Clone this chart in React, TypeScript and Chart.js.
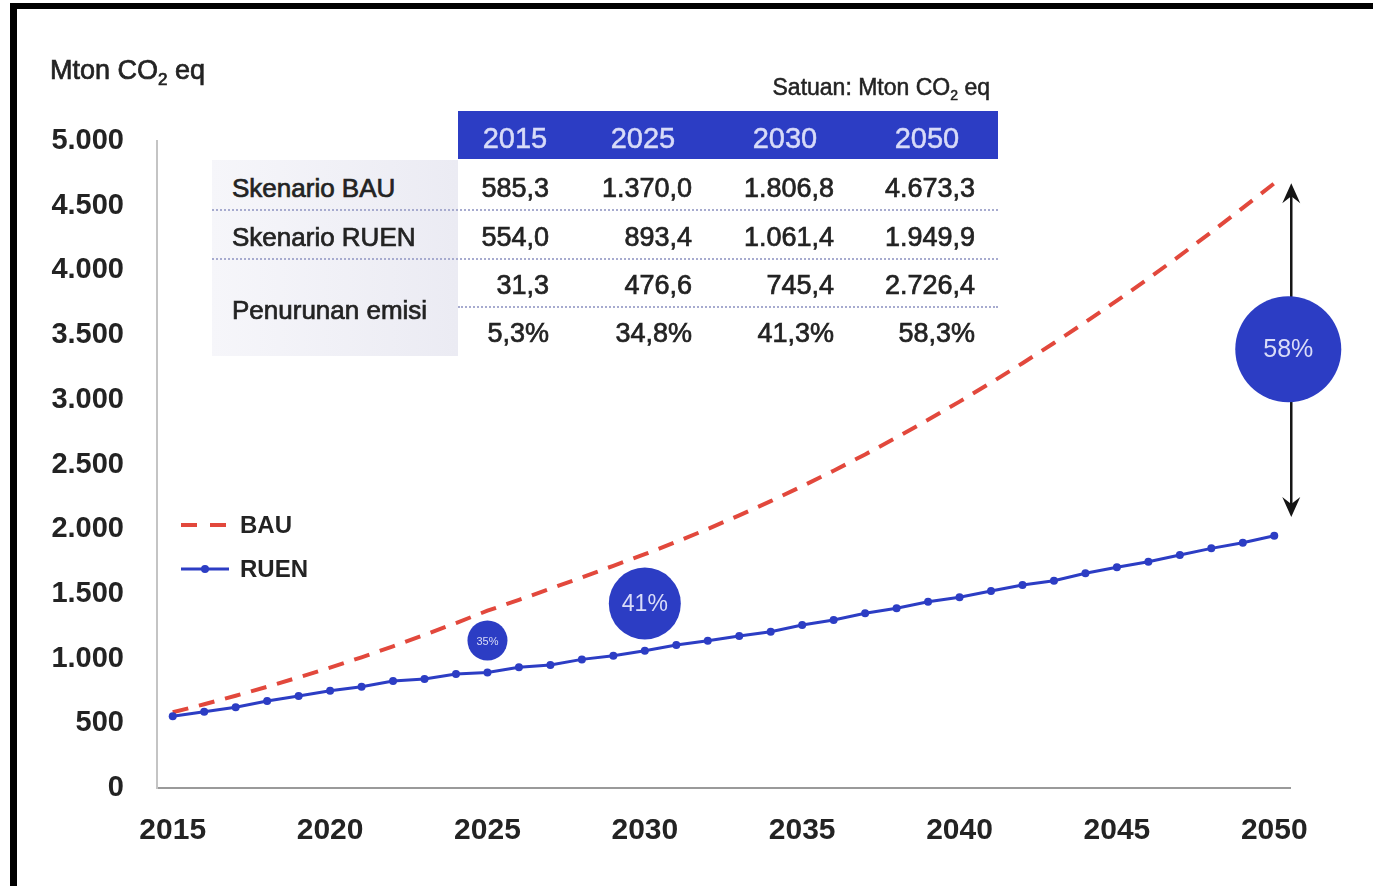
import React, { useEffect, useRef } from 'react';
import { Chart, registerables } from 'chart.js';

Chart.register(...registerables);

// ---------------- DATA ----------------
const years = [
  '2015', '2016', '2017', '2018', '2019', '2020', '2021', '2022', '2023', '2024',
  '2025', '2026', '2027', '2028', '2029', '2030', '2031', '2032', '2033', '2034',
  '2035', '2036', '2037', '2038', '2039', '2040', '2041', '2042', '2043', '2044',
  '2045', '2046', '2047', '2048', '2049', '2050',
];
const xTickLabels = ['2015', '2020', '2025', '2030', '2035', '2040', '2045', '2050'];
const yTickLabels = ['0', '500', '1.000', '1.500', '2.000', '2.500', '3.000', '3.500', '4.000', '4.500', '5.000'];

const bauValues = [
  585.3, 647, 713, 782, 855, 930, 1010, 1095, 1183, 1275,
  1370.0, 1454, 1540, 1628, 1717, 1806.8, 1902, 2002, 2107, 2217,
  2332, 2452, 2578, 2709, 2845, 2986, 3132, 3283, 3439, 3600,
  3766, 3937, 4114, 4296, 4483, 4673.3,
];
const ruenValues = [
  554.0, 590, 624, 672, 711, 752, 783, 827, 842, 881,
  893.4, 933, 950, 994, 1022, 1061.4, 1105, 1138, 1175, 1208,
  1260, 1298, 1350, 1389, 1440, 1474, 1522, 1569, 1602, 1659,
  1706, 1749, 1801, 1852, 1896, 1949.9,
];
const seriesLabels = ['BAU', 'RUEN'];

const tableYears = ['2015', '2025', '2030', '2050'];
const tableRowLabels = ['Skenario BAU', 'Skenario RUEN', 'Penurunan emisi'];
const bauRow = ['585,3', '1.370,0', '1.806,8', '4.673,3'];
const ruenRow = ['554,0', '893,4', '1.061,4', '1.949,9'];
const reductionRow = ['31,3', '476,6', '745,4', '2.726,4'];
const reductionPctRow = ['5,3%', '34,8%', '41,3%', '58,3%'];

const bubbleYears = ['2025', '2030', '2050'];
const bubbleLabels = ['35%', '41%', '58%'];
const bubbleValues = [1140, 1425, 3390];
const arrowYear = '2050';
const arrowBottomValue = 2095;

const titleText = 'Mton CO';
const unitText = 'Satuan: Mton CO';

// ---------------- STYLES ----------------
const BLUE = '#2c3dc4';
const RED = '#e2483c';
const FONT = "'Liberation Sans', Arial, sans-serif";
const TEXT = '#232323';
const bubbleStyles = [
  { r: 20, font: '11px', dx: 0 },
  { r: 36, font: '23px', dx: 0 },
  { r: 53, font: '25px', dx: 14 },
];

const annotationPlugin = {
  id: 'annotations',
  beforeDraw(chart: any) {
    const { ctx, width, height } = chart;
    ctx.save();
    ctx.fillStyle = '#ffffff';
    ctx.fillRect(0, 0, width, height);
    ctx.restore();
  },
  afterDatasetsDraw(chart: any) {
    const ctx = chart.ctx as CanvasRenderingContext2D;
    const xs = chart.scales.x;
    const ys = chart.scales.y;
    ctx.save();

    // double arrow
    const ia = years.indexOf(arrowYear);
    const ax = xs.getPixelForValue(ia) + 17;
    const yTop = ys.getPixelForValue(bauValues[ia]);
    const yBot = ys.getPixelForValue(arrowBottomValue);
    ctx.strokeStyle = '#151515';
    ctx.fillStyle = '#151515';
    ctx.lineWidth = 2.5;
    ctx.beginPath();
    ctx.moveTo(ax, yTop + 10);
    ctx.lineTo(ax, yBot - 10);
    ctx.stroke();
    const head = (tipY: number, dir: number) => {
      ctx.beginPath();
      ctx.moveTo(ax, tipY);
      ctx.lineTo(ax - 9, tipY + dir * 20);
      ctx.lineTo(ax, tipY + dir * 13);
      ctx.lineTo(ax + 9, tipY + dir * 20);
      ctx.closePath();
      ctx.fill();
    };
    head(yTop, 1);
    head(yBot, -1);

    // bubbles
    bubbleYears.forEach((yr, k) => {
      const i = years.indexOf(yr);
      const st = bubbleStyles[k];
      const bx = xs.getPixelForValue(i) + st.dx;
      const by = ys.getPixelForValue(bubbleValues[k]);
      ctx.beginPath();
      ctx.arc(bx, by, st.r, 0, Math.PI * 2);
      ctx.fillStyle = BLUE;
      ctx.fill();
      ctx.fillStyle = '#d9dcf8';
      ctx.font = `${st.font} ${FONT}`;
      ctx.textAlign = 'center';
      ctx.textBaseline = 'middle';
      ctx.fillText(bubbleLabels[k], bx, by + 1);
    });

    // legend
    const legY = [525, 569];
    ctx.lineCap = 'butt';
    ctx.strokeStyle = RED;
    ctx.lineWidth = 4;
    ctx.setLineDash([16, 13]);
    ctx.beginPath();
    ctx.moveTo(181, legY[0]);
    ctx.lineTo(229, legY[0]);
    ctx.stroke();
    ctx.setLineDash([]);
    ctx.strokeStyle = BLUE;
    ctx.lineWidth = 3;
    ctx.beginPath();
    ctx.moveTo(181, legY[1]);
    ctx.lineTo(229, legY[1]);
    ctx.stroke();
    ctx.beginPath();
    ctx.arc(205, legY[1], 4, 0, Math.PI * 2);
    ctx.fillStyle = BLUE;
    ctx.fill();
    ctx.fillStyle = TEXT;
    ctx.font = `bold 24px ${FONT}`;
    ctx.textAlign = 'left';
    ctx.textBaseline = 'middle';
    seriesLabels.forEach((lab, k) => ctx.fillText(lab, 240, legY[k] + 1));

    ctx.restore();
  },
  afterDraw(chart: any) {
    const ctx = chart.ctx as CanvasRenderingContext2D;
    ctx.save();
    ctx.fillStyle = '#000';
    ctx.fillRect(10, 3, chart.width - 10, 6);
    ctx.fillRect(10, 3, 7, chart.height - 3);
    ctx.restore();
  },
};

const textBase: React.CSSProperties = {
  position: 'absolute',
  fontFamily: FONT,
  color: TEXT,
  WebkitTextStroke: `0.7px ${TEXT}`,
  whiteSpace: 'nowrap',
};

const colCenters = [515, 643, 785, 927];
const colRights = [549, 692, 834, 975];
const rowCenters = [188, 237, 285, 333];

export default function App() {
  const canvasRef = useRef<HTMLCanvasElement | null>(null);

  useEffect(() => {
    if (!canvasRef.current) return;
    const chart = new Chart(canvasRef.current, {
      type: 'line',
      data: {
        labels: years,
        datasets: [
          {
            label: seriesLabels[0],
            data: bauValues,
            borderColor: RED,
            borderWidth: 4,
            borderDash: [16, 11],
            pointRadius: 0,
            tension: 0,
            fill: false,
            order: 1,
          },
          {
            label: seriesLabels[1],
            data: ruenValues,
            borderColor: BLUE,
            backgroundColor: BLUE,
            borderWidth: 3,
            pointRadius: 4,
            pointBorderWidth: 0,
            pointBackgroundColor: BLUE,
            tension: 0,
            fill: false,
            order: 0,
          },
        ],
      },
      options: {
        responsive: false,
        devicePixelRatio: 1,
        animation: false,
        events: [],
        layout: { padding: { top: 141, right: 83, left: 0, bottom: 0 } },
        plugins: {
          legend: { display: false },
          title: { display: false },
          tooltip: { enabled: false },
        },
        scales: {
          x: {
            type: 'category',
            offset: true,
            grid: { display: false, drawTicks: false },
            border: { display: true, color: '#9a9a9a', width: 2 },
            ticks: {
              autoSkip: false,
              maxRotation: 0,
              minRotation: 0,
              padding: 25,
              color: TEXT,
              font: { family: FONT, size: 30, weight: 'bold' },
              callback: (_v: any, i: number) => (xTickLabels.includes(years[i]) ? years[i] : null),
            },
            afterFit: (s: any) => {
              s.height = 98;
            },
          },
          y: {
            type: 'linear',
            min: 0,
            max: 5000,
            grid: { display: false, drawTicks: false },
            border: { display: true, color: '#c4c4c4', width: 2 },
            ticks: {
              stepSize: 500,
              padding: 33,
              color: TEXT,
              font: { family: FONT, size: 29, weight: 'bold' },
              callback: (_v: any, i: number) => yTickLabels[i],
            },
            afterFit: (s: any) => {
              s.width = 157;
            },
          },
        },
      },
      plugins: [annotationPlugin],
    } as any);
    return () => chart.destroy();
  }, []);

  return (
    <div style={{ position: 'fixed', left: 0, top: 0, width: 1373, height: 886, background: '#fff', overflow: 'hidden' }}>
      <canvas ref={canvasRef} width={1373} height={886} style={{ display: 'block' }} />

      {/* y-axis title */}
      <div style={{ ...textBase, left: 50, top: 52, fontSize: 27, lineHeight: '36px' }}>
        {titleText}
        <span style={{ fontSize: 17, position: 'relative', top: 6 }}>2</span> eq
      </div>

      {/* unit note */}
      <div style={{ ...textBase, WebkitTextStroke: `0.5px ${TEXT}`, right: 1373 - 990, top: 72, fontSize: 23, lineHeight: '30px' }}>
        {unitText}
        <span style={{ fontSize: 14, position: 'relative', top: 5 }}>2</span> eq
      </div>

      {/* table backgrounds */}
      <div style={{ position: 'absolute', left: 458, top: 111, width: 540, height: 48, background: BLUE }} />
      <div
        style={{
          position: 'absolute',
          left: 212,
          top: 160,
          width: 246,
          height: 196,
          background: 'linear-gradient(to right, #f6f6fa, #ebebf3)',
        }}
      />
      {[
        { y: 209, l: 212 },
        { y: 258, l: 212 },
        { y: 306, l: 458 },
      ].map((d, k) => (
        <div
          key={'dl' + k}
          style={{ position: 'absolute', left: d.l, top: d.y, width: 998 - d.l, height: 0, borderTop: '2px dotted #a7abcf' }}
        />
      ))}

      {/* header */}
      {tableYears.map((y, k) => (
        <div
          key={'h' + k}
          style={{
            ...textBase,
            color: '#d8dbf8',
            WebkitTextStroke: '0.5px #d8dbf8',
            left: colCenters[k] - 60,
            width: 120,
            textAlign: 'center',
            top: 118,
            fontSize: 29,
            lineHeight: '40px',
          }}
        >
          {y}
        </div>
      ))}

      {/* row labels */}
      {tableRowLabels.map((lab, k) => (
        <div
          key={'rl' + k}
          style={{ ...textBase, left: 232, top: [188, 237, 310][k] - 20, fontSize: 26, lineHeight: '40px' }}
        >
          {lab}
        </div>
      ))}

      {/* values */}
      {[bauRow, ruenRow, reductionRow, reductionPctRow].map((row, r) =>
        row.map((val, k) => (
          <div
            key={'v' + r + '-' + k}
            style={{
              ...textBase,
              left: colRights[k] - 160,
              width: 160,
              textAlign: 'right',
              top: rowCenters[r] - 20,
              fontSize: 27,
              lineHeight: '40px',
            }}
          >
            {val}
          </div>
        ))
      )}
    </div>
  );
}
